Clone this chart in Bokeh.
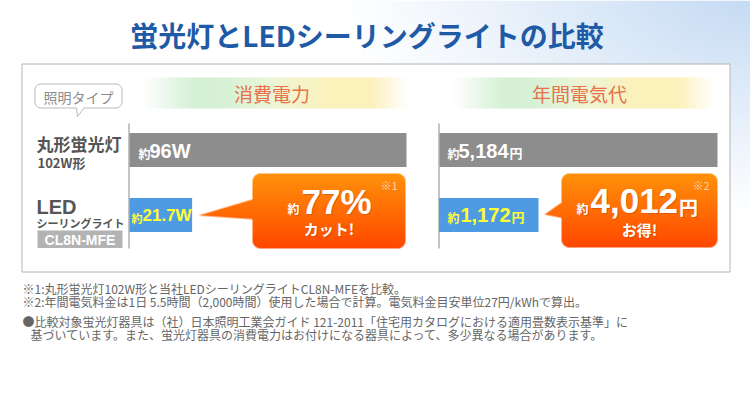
import numpy as np
from bokeh.plotting import figure
from bokeh.models import Range1d
from bokeh.embed import file_html
from bokeh.resources import INLINE
from bokeh.core.properties import value

# ---------------- data ----------------
TITLE = "蛍光灯とLEDシーリングライトの比較"
TYPE_HEADER = "照明タイプ"
LAMP_NAMES = ["丸形蛍光灯", "LED"]
LAMP_SUBS = ["102W形", "シーリングライト"]
LED_MODEL = "CL8N-MFE"
PANEL_TITLES = ["消費電力", "年間電気代"]
POWER_W = [96, 21.7]
COST_YEN = [5184, 1172]
APPROX = "約"
YEN = "円"
NOTE_MARKS = ["※1", "※2"]
CALLOUT_SUBS = ["カット!", "お得!"]
FOOTNOTES = [
    "※1:丸形蛍光灯102W形と当社LEDシーリングライトCL8N-MFEを比較。",
    "※2:年間電気料金は1日 5.5時間（2,000時間）使用した場合で計算。電気料金目安単位27円/kWhで算出。",
    "●比較対象蛍光灯器具は（社）日本照明工業会ガイド 121-2011「住宅用カタログにおける適用畳数表示基準」に",
    "基づいています。また、蛍光灯器具の消費電力はお付けになる器具によって、多少異なる場合があります。",
]

CUT_PCT = round((POWER_W[0] - POWER_W[1]) / POWER_W[0] * 100)
SAVE_YEN = COST_YEN[0] - COST_YEN[1]

# ---------------- styles ----------------
JP = "Noto Sans CJK JP"
LAT = "Liberation Sans"
TITLE_C = "#1f5aa6"
HEAD_C = "#e8704a"
LABEL_C = "#555555"
GRAY_BAR = "#8d8d8d"
BLUE_BAR = "#4f9be3"
YELLOW = "#ffff33"
NOTE_C = "#666666"

W, H = 750, 395


def Y(yr):
    return H - yr


p = figure(width=W, height=H, x_range=Range1d(0, W), y_range=Range1d(0, H),
           output_backend="svg", toolbar_location=None, min_border=0,
           x_axis_location=None, y_axis_location=None, tools="")
p.grid.visible = False
p.outline_line_color = None
p.background_fill_color = "white"
p.border_fill_color = "white"

# data scales for the two bar panels
PW_ZERO, PW_FULL = 129.0, 406.0
CO_ZERO, CO_FULL = 439.0, 717.0


def make_range(zero_px, full_px, vmax):
    k = (full_px - zero_px) / vmax
    start = -zero_px / k
    return Range1d(start, start + W / k)


p.extra_x_ranges = {"power": make_range(PW_ZERO, PW_FULL, max(POWER_W)),
                    "cost": make_range(CO_ZERO, CO_FULL, max(COST_YEN))}


def to_rgba32(r, g, b, a):
    arr = np.dstack([r, g, b, a]).clip(0, 255).astype(np.uint8)
    arr = np.ascontiguousarray(arr[::-1])
    return arr.view(np.uint32).reshape(arr.shape[0], arr.shape[1])


def put_image(img, x0, y1, w, h):
    p.image_rgba(image=[img], x=x0, y=Y(y1), dw=w, dh=h)


# ---- background gradient (top right) ----
bx0, bx1, by0, by1 = 280, W, 0, 300
bw, bh = bx1 - bx0, by1 - by0
XX, YY = np.meshgrid(bx0 + np.arange(bw) + 0.5, by0 + np.arange(bh) + 0.5)
t = np.sqrt(((770 - XX) / 440) ** 2 + ((YY + 20) / 240) ** 2)
a = np.clip(1 - t, 0, 1) ** 1.1 * 255
put_image(to_rgba32(np.full_like(a, 190), np.full_like(a, 214), np.full_like(a, 242), a), bx0, by1, bw, bh)

# ---- main box ----
p.quad(left=21.5, right=729.5, top=Y(63.5), bottom=Y(271.5),
       fill_color="white", line_color="#b4b4b4", line_width=1)


# ---- header bands ----
def band(x0, x1, y0, y1):
    w, h = int(x1 - x0), int(y1 - y0)
    u = (np.arange(w) + 0.5) / w
    su = [0.0, 0.2, 0.32, 0.5, 0.7, 0.86, 1.0]
    cols = [(255, 255, 255), (212, 240, 212), (216, 242, 214), (238, 246, 214),
            (251, 241, 188), (252, 241, 186), (255, 255, 255)]
    ch = [np.interp(u, su, [c[i] for c in cols]) for i in range(3)]
    ch = [np.tile(c, (h, 1)) for c in ch]
    put_image(to_rgba32(ch[0], ch[1], ch[2], np.full((h, w), 255)), x0, y1, w, h)


band(143, 407, 77, 108)
band(453, 713, 77, 108)
p.text(x=[271.5, 579], y=[Y(93)] * 2, text=PANEL_TITLES, text_font=value(JP),
       text_font_size="19px", text_color=HEAD_C, text_align="center", text_baseline="middle")


# ---- "照明タイプ" bubble ----
def rrect_pts(x0, y0, x1, y1, r, tail=None, n=10):
    xs, ys = [], []
    corners = [(x1 - r, y0 + r, -90), (x1 - r, y1 - r, 0), (x0 + r, y1 - r, 90), (x0 + r, y0 + r, 180)]
    for idx, (cx, cy, a0) in enumerate(corners):
        ang = np.radians(np.linspace(a0, a0 + 90, n))
        xs += list(cx + r * np.cos(ang))
        ys += list(cy + r * np.sin(ang))
        if idx == 1 and tail is not None:
            for tx, ty in tail:
                xs.append(tx)
                ys.append(ty)
    return xs, ys


bxs, bys = rrect_pts(34.5, 83.5, 121.5, 107.5, 6, tail=[(83.5, 107.5), (77, 116), (76, 107.5)])
p.patch(x=bxs, y=[Y(v) for v in bys], fill_color="white", line_color="#b9b9b9", line_width=1)
p.text(x=[78], y=[Y(96)], text=[TYPE_HEADER], text_font=value(JP), text_font_size="14px",
       text_color="#8c8c8c", text_align="center", text_baseline="middle")

# ---- row labels ----
p.text(x=[36], y=[Y(142.5)], text=[LAMP_NAMES[0]], text_font=value(JP), text_font_size="17px",
       text_font_style="bold", text_color=LABEL_C, text_baseline="middle")
p.text(x=[37], y=[Y(161.5)], text=[LAMP_SUBS[0]], text_font=value(JP), text_font_size="13px",
       text_font_style="bold", text_color=LABEL_C, text_baseline="middle")
p.text(x=[36], y=[Y(206)], text=[LAMP_NAMES[1]], text_font=value(LAT), text_font_size="20px",
       text_font_style="bold", text_color=LABEL_C, text_baseline="middle")
p.text(x=[36], y=[Y(222.5)], text=[LAMP_SUBS[1]], text_font=value(JP), text_font_size="11px",
       text_font_style="bold", text_color=LABEL_C, text_baseline="middle")
p.quad(left=37, right=122, top=Y(230), bottom=Y(247.5), fill_color="#b3b3b3", line_color=None)
p.text(x=[79.5], y=[Y(239)], text=[LED_MODEL], text_font=value(LAT), text_font_size="14px",
       text_font_style="bold", text_color="white", text_align="center", text_baseline="middle")

# ---- axis lines ----
p.segment(x0=[128.5, 438.5], x1=[128.5, 438.5], y0=[Y(123)] * 2, y1=[Y(248)] * 2,
          line_color="#8a8a8a", line_width=1)

# ---- bars (data) ----
ROW_Y = [Y(149.5), Y(214.5)]
BAR_COLORS = [GRAY_BAR, BLUE_BAR]
p.hbar(y=ROW_Y, left=0, right=POWER_W, height=34, fill_color=BAR_COLORS, line_color=None,
       x_range_name="power")
p.hbar(y=ROW_Y, left=0, right=COST_YEN, height=34, fill_color=BAR_COLORS, line_color=None,
       x_range_name="cost")
# label plate behind the LED cost label
p.quad(left=CO_ZERO - 0.5, right=538, top=Y(197.5), bottom=Y(231.5), fill_color=BLUE_BAR, line_color=None)

# approximate Liberation Sans Bold advance widths (em)
ADV = {**{d: 0.556 for d in "0123456789"}, ",": 0.278, ".": 0.278, "W": 0.944, "%": 0.889}


def tw(s, size):
    return sum(ADV.get(c, 0.6) for c in s) * size


def label(panel, x_off, cy, num_s, unit, color, num_size, small_size, unit_size, num_x=11):
    p.text(x=[0], y=[Y(cy + 2)], text=[APPROX], x_offset=x_off, text_font=value(JP),
           text_font_size=f"{small_size}px", text_font_style="bold", text_color=color,
           text_baseline="middle", x_range_name=panel)
    p.text(x=[0], y=[Y(cy)], text=[num_s], x_offset=x_off + num_x, text_font=value(LAT),
           text_font_size=f"{num_size}px", text_font_style="bold", text_color=color,
           text_baseline="middle", x_range_name=panel)
    if unit:
        p.text(x=[0], y=[Y(cy + 1.5)], text=[unit], x_offset=x_off + num_x + tw(num_s, num_size) + 1,
               text_font=value(JP), text_font_size=f"{unit_size}px", text_font_style="bold",
               text_color=color, text_baseline="middle", x_range_name=panel)


label("power", 9, 150.5, f"{POWER_W[0]:g}W", "", "white", 20, 12, 13)
label("cost", 8, 150.5, f"{COST_YEN[0]:,}", YEN, "white", 20, 12, 13)
label("power", 2, 215, f"{POWER_W[1]:g}W", "", YELLOW, 17, 11, 13, num_x=11)
label("cost", 8, 214.5, f"{COST_YEN[1]:,}", YEN, YELLOW, 20, 12, 13, num_x=13)


# ---- callouts ----
def callout(box, r, tail, c_top, c_bot, ss=4):
    x0, y0, x1, y1 = box
    (tx, ty), (ax, ay), (cx, cy) = tail
    X0 = int(np.floor(min(x0, tx))) - 1
    X1 = int(np.ceil(x1)) + 1
    Y0 = int(np.floor(y0)) - 1
    Y1 = int(np.ceil(y1)) + 1
    w, h = X1 - X0, Y1 - Y0
    XX, YY = np.meshgrid(X0 + (np.arange(w * ss) + 0.5) / ss, Y0 + (np.arange(h * ss) + 0.5) / ss)
    qx = np.clip(XX, x0 + r, x1 - r)
    qy = np.clip(YY, y0 + r, y1 - r)
    inside = np.hypot(XX - qx, YY - qy) <= r

    def side(x1_, y1_, x2_, y2_):
        return (x2_ - x1_) * (YY - y1_) - (y2_ - y1_) * (XX - x1_)

    d1, d2, d3 = side(tx, ty, ax, ay), side(ax, ay, cx, cy), side(cx, cy, tx, ty)
    neg = (d1 < 0) | (d2 < 0) | (d3 < 0)
    pos = (d1 > 0) | (d2 > 0) | (d3 > 0)
    m = (inside | ~(neg & pos)).astype(float)
    alpha = m.reshape(h, ss, w, ss).mean(axis=(1, 3)) * 255
    tt = np.clip((Y0 + np.arange(h) + 0.5 - y0) / (y1 - y0), 0, 1)[:, None]
    ch = [np.tile(c_top[i] * (1 - tt) + c_bot[i] * tt, (1, w)) for i in range(3)]
    put_image(to_rgba32(ch[0], ch[1], ch[2], alpha), X0, Y1, w, h)


C_TOP, C_BOT = (255, 146, 10), (255, 72, 0)
callout((252, 173, 405, 248), 8, ((198, 215), (255, 198), (255, 219)), C_TOP, C_BOT)
callout((561, 173, 717, 247), 8, ((544, 214), (564, 200), (564, 218)), C_TOP, C_BOT)

SHADOW = "#a83300"


def wtext(x, y, s, size, font, style="bold", align="left", color="white", shadow=True):
    if shadow:
        p.text(x=[x + 1], y=[Y(y + 1)], text=[s], text_font=value(font), text_font_size=f"{size}px",
               text_font_style=style, text_color=SHADOW, text_alpha=0.35, text_align=align,
               text_baseline="middle")
    p.text(x=[x], y=[Y(y)], text=[s], text_font=value(font), text_font_size=f"{size}px",
           text_font_style=style, text_color=color, text_align=align, text_baseline="middle")


pct_s = f"{CUT_PCT}%"
wtext(287, 208, APPROX, 12, JP)
wtext(301, 200.5, pct_s, 35, LAT)
wtext(328.5, 228, CALLOUT_SUBS[0], 15, JP, align="center")
wtext(380, 184.5, NOTE_MARKS[0], 11, JP, style="normal", color="#ffd2b4", shadow=False)

save_s = f"{SAVE_YEN:,}"
wtext(576, 208, APPROX, 12, JP)
wtext(590, 200.5, save_s, 35, LAT)
wtext(590 + tw(save_s, 35) + 1, 206, YEN, 19, JP)
wtext(639, 229, CALLOUT_SUBS[1], 15, JP, align="center")
wtext(692, 184.5, NOTE_MARKS[1], 11, JP, style="normal", color="#ffd2b4", shadow=False)

# ---- title ----
p.text(x=[366.5], y=[Y(34)], text=[TITLE], text_font=value(JP), text_font_size="28px",
       text_font_style="bold", text_color=TITLE_C, text_align="center", text_baseline="middle")

# ---- footnotes ----
p.text(x=[22, 22, 22, 30], y=[Y(287.5), Y(300.5), Y(320.5), Y(334)], text=FOOTNOTES,
       text_font=value(JP), text_font_size="12px", text_color=NOTE_C, text_baseline="middle")

open("out.html", "w").write(file_html(p, INLINE))
